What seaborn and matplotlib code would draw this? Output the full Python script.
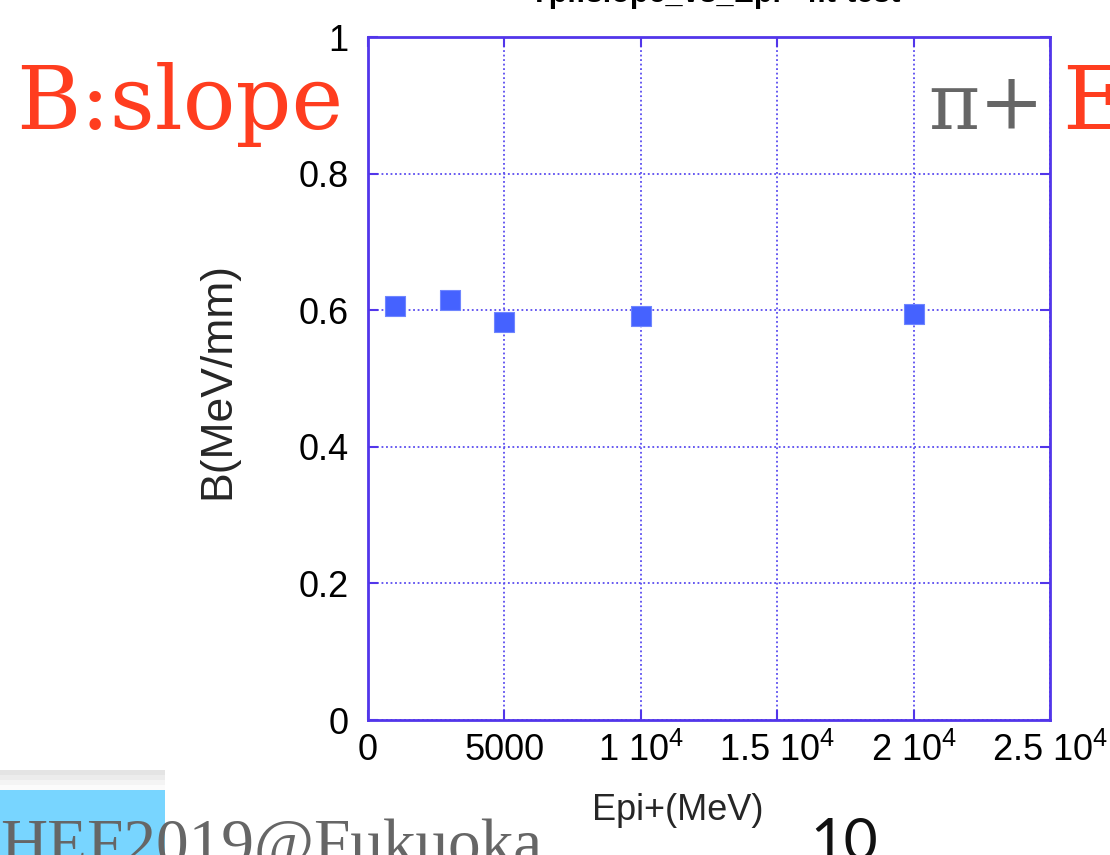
import numpy as np
import pandas as pd
import matplotlib
matplotlib.use('Agg')
import matplotlib.pyplot as plt
import matplotlib.patches as mpatches
import seaborn as sns

# values
energy = [1000, 3000, 5000, 10000, 20000]
slope = [0.606, 0.615, 0.583, 0.591, 0.594]
xticks = [0, 5000, 10000, 15000, 20000, 25000]
xticklabels = ['0', '5000', r'1 10$^{4}$', r'1.5 10$^{4}$', r'2 10$^{4}$', r'2.5 10$^{4}$']
yticks = [0, 0.2, 0.4, 0.6, 0.8, 1.0]
yticklabels = ['0', '0.2', '0.4', '0.6', '0.8', '1']

sns.set_style('ticks')
plt.rcParams['font.family'] = ['Liberation Sans', 'DejaVu Sans']
plt.rcParams['mathtext.default'] = 'regular'

W, H = 1110, 855
fig = plt.figure(figsize=(W / 100, H / 100), dpi=100)

def fx(px):
    return px / W

def fy(py):
    return 1 - py / H

axcol = '#5236ea'
ax = fig.add_axes([fx(368), fy(720), fx(1050) - fx(368), fy(37) - fy(720)])

df = pd.DataFrame({'Epi': energy, 'B': slope})
sns.scatterplot(data=df, x='Epi', y='B', marker='s', s=200, color='#4562ff',
                edgecolor='#6f86ff', linewidth=0.8, ax=ax, zorder=3)

ax.set_xlim(0, 25000)
ax.set_ylim(0, 1)
ax.set_xticks(xticks)
ax.set_xticklabels(xticklabels)
ax.set_yticks(yticks)
ax.set_yticklabels(yticklabels)
ax.grid(True, color='#5a4cf0', linestyle=(0, (1, 1.5)), linewidth=1.3)
for sp in ax.spines.values():
    sp.set_visible(True)
    sp.set_color(axcol)
    sp.set_linewidth(2)
ax.tick_params(direction='in', length=7, width=1.5, color=axcol,
               top=True, right=True, labelsize=26, labelcolor='black')
ax.tick_params(axis='x', pad=9)
ax.tick_params(axis='y', pad=14)

ax.set_xlabel('Epi+(MeV)', fontsize=26)
ax.set_ylabel('B(MeV/mm)', fontsize=32)
ax.xaxis.set_label_coords((678 - 368) / 682, (720 - 793) / 683)
ax.yaxis.set_label_coords((238 - 368) / 682, (720 - 380) / 683)

# cut-off plot title
fig.text(fx(715), fy(2), 'Tpi:slope_vs_Epi+ fit-test', ha='center', va='baseline',
         fontsize=22, fontweight='bold', color='black')

# slide overlay text
serif = ['DejaVu Serif']
fig.text(fx(16), fy(129), 'B:slope', fontsize=63, color='#ff3d1f',
         family=serif, ha='left', va='baseline')
fig.text(fx(928), fy(129), 'π+', fontsize=56, color='#666666',
         family=serif, ha='left', va='baseline')
fig.text(fx(1062), fy(129), 'E', fontsize=63, color='#ff3d1f',
         family=serif, ha='left', va='baseline')

# footer
for i, g in enumerate(['#fbfbfb', '#f4f4f4', '#ececec', '#e4e4e4']):
    fig.add_artist(mpatches.Rectangle((0, fy(790 - 5 * i)), fx(165), 5 / H,
                                      transform=fig.transFigure, color=g, lw=0, zorder=0))
fig.add_artist(mpatches.Rectangle((0, 0), fx(165), fy(790), transform=fig.transFigure,
                                  color='#78d5ff', lw=0, zorder=0))
fig.text(fx(0), fy(864), 'HEF2019@Fukuoka', fontsize=47, color='#666666',
         family=['Liberation Serif'], ha='left', va='baseline')
fig.text(fx(810), fy(860), '10', fontsize=42, color='#111111',
         family=['Lato', 'DejaVu Sans'], ha='left', va='baseline')

fig.savefig('out.png', dpi=100)
